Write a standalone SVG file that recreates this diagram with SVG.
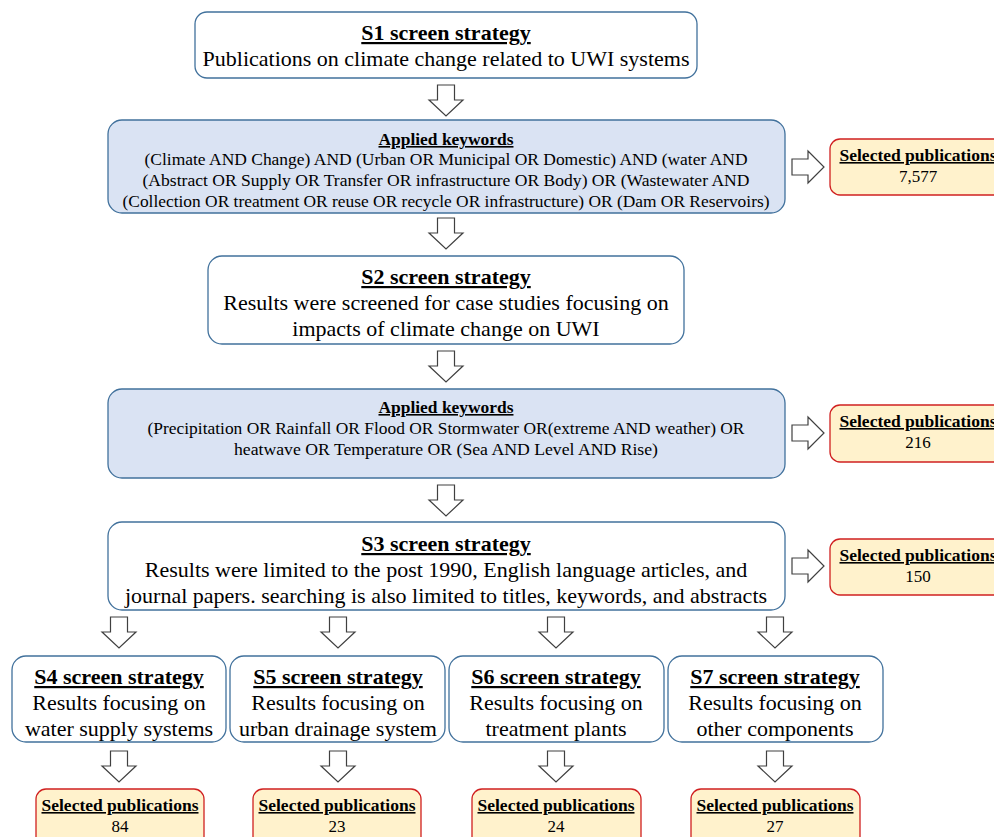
<svg xmlns="http://www.w3.org/2000/svg" width="994" height="837" viewBox="0 0 994 837">
<style>
.box{fill:#fff;stroke:#41719c;stroke-width:1.3}
.kw{fill:#dae3f3;stroke:#41719c;stroke-width:1.3}
.sel{fill:#fff2cc;stroke:#d02020;stroke-width:1.3}
.arr{fill:#fff;stroke:#404040;stroke-width:1.2;stroke-linejoin:miter}
text{font-family:"Liberation Serif","Times New Roman",serif;fill:#000;text-anchor:middle}
.t{font-size:22px;font-weight:bold;text-decoration:underline}
.b{font-size:22px}
.kt{font-size:16px;font-weight:bold;text-decoration:underline}
.k{font-size:17px}
.st{font-size:16px;font-weight:bold;text-decoration:underline}
.sv{font-size:17px}
</style>
<defs>
<path id="down" d="M-8.5,0 H8.5 V15 H17 L0,31 L-17,15 H-8.5 Z"/>
<path id="right" d="M0,-8 H16 V-16 L32,0 L16,16 V8 H0 Z"/>
</defs>

<g id="connectors">
<use href="#down" class="arr" x="446" y="85"/>
<use href="#down" class="arr" x="446" y="218"/>
<use href="#down" class="arr" x="446" y="351"/>
<use href="#down" class="arr" x="446" y="485"/>
<use href="#right" class="arr" x="792" y="167"/>
<use href="#right" class="arr" x="792" y="433"/>
<use href="#right" class="arr" x="792" y="566"/>
<use href="#down" class="arr" x="119" y="617"/>
<use href="#down" class="arr" x="338" y="617"/>
<use href="#down" class="arr" x="556" y="617"/>
<use href="#down" class="arr" x="775" y="617"/>
<use href="#down" class="arr" x="119" y="751"/>
<use href="#down" class="arr" x="338" y="751"/>
<use href="#down" class="arr" x="556" y="751"/>
<use href="#down" class="arr" x="775" y="751"/>
</g>

<g id="s1">
<rect class="box" x="195" y="12" width="502" height="66" rx="12"/>
<text class="t" x="446" y="40">S1 screen strategy</text>
<text class="b" x="446" y="66">Publications on climate change related to UWI systems</text>
</g>

<g id="kw1">
<rect class="kw" x="108" y="120" width="677" height="93" rx="14"/>
<text class="kt" x="446" y="145" textLength="135" lengthAdjust="spacingAndGlyphs">Applied keywords</text>
<text class="k" x="446" y="165" textLength="603" lengthAdjust="spacingAndGlyphs">(Climate AND Change) AND (Urban OR Municipal OR Domestic) AND (water AND</text>
<text class="k" x="446" y="186" textLength="607" lengthAdjust="spacingAndGlyphs">(Abstract OR Supply OR Transfer OR infrastructure OR Body) OR (Wastewater AND</text>
<text class="k" x="446" y="207" textLength="647" lengthAdjust="spacingAndGlyphs">(Collection OR treatment OR reuse OR recycle OR infrastructure) OR (Dam OR Reservoirs)</text>
</g>

<g id="sel1">
<rect class="sel" x="830" y="139" width="180" height="56" rx="10"/>
<text class="st" x="918" y="161" textLength="157" lengthAdjust="spacingAndGlyphs">Selected publications</text>
<text class="sv" x="918" y="182">7,577</text>
</g>

<g id="s2">
<rect class="box" x="208" y="256" width="476" height="88" rx="14"/>
<text class="t" x="446" y="284">S2 screen strategy</text>
<text class="b" x="446" y="310">Results were screened for case studies focusing on</text>
<text class="b" x="446" y="336">impacts of climate change on UWI</text>
</g>

<g id="kw2">
<rect class="kw" x="108" y="389" width="677" height="89" rx="14"/>
<text class="kt" x="446" y="413" textLength="135" lengthAdjust="spacingAndGlyphs">Applied keywords</text>
<text class="k" x="446" y="434" textLength="597" lengthAdjust="spacingAndGlyphs">(Precipitation OR Rainfall OR Flood OR Stormwater OR(extreme AND weather) OR</text>
<text class="k" x="446" y="455" textLength="424" lengthAdjust="spacingAndGlyphs">heatwave OR Temperature OR  (Sea AND Level AND Rise)</text>
</g>

<g id="sel2">
<rect class="sel" x="830" y="405" width="180" height="57" rx="10"/>
<text class="st" x="918" y="427" textLength="157" lengthAdjust="spacingAndGlyphs">Selected publications</text>
<text class="sv" x="918" y="448">216</text>
</g>

<g id="s3">
<rect class="box" x="108" y="522" width="677" height="88" rx="14"/>
<text class="t" x="446" y="551">S3 screen strategy</text>
<text class="b" x="446" y="577">Results were limited to the post 1990, English language articles, and</text>
<text class="b" x="446" y="603">journal papers. searching is also limited to titles, keywords, and abstracts</text>
</g>

<g id="sel3">
<rect class="sel" x="830" y="539" width="180" height="56" rx="10"/>
<text class="st" x="918" y="561" textLength="157" lengthAdjust="spacingAndGlyphs">Selected publications</text>
<text class="sv" x="918" y="582">150</text>
</g>

<g id="s4">
<rect class="box" x="12" y="656" width="214" height="86" rx="14"/>
<text class="t" x="119" y="684">S4 screen strategy</text>
<text class="b" x="119" y="710">Results focusing on</text>
<text class="b" x="119" y="736">water supply systems</text>
</g>
<g id="s5">
<rect class="box" x="230" y="656" width="215" height="86" rx="14"/>
<text class="t" x="338" y="684">S5 screen strategy</text>
<text class="b" x="338" y="710">Results focusing on</text>
<text class="b" x="338" y="736">urban drainage system</text>
</g>
<g id="s6">
<rect class="box" x="449" y="656" width="215" height="86" rx="14"/>
<text class="t" x="556" y="684">S6 screen strategy</text>
<text class="b" x="556" y="710">Results focusing on</text>
<text class="b" x="556" y="736">treatment plants</text>
</g>
<g id="s7">
<rect class="box" x="668" y="656" width="215" height="86" rx="14"/>
<text class="t" x="775" y="684">S7 screen strategy</text>
<text class="b" x="775" y="710">Results focusing on</text>
<text class="b" x="775" y="736">other components</text>
</g>

<g id="sel4">
<rect class="sel" x="36" y="789" width="168" height="60" rx="10"/>
<text class="st" x="120" y="811" textLength="157" lengthAdjust="spacingAndGlyphs">Selected publications</text>
<text class="sv" x="120" y="832">84</text>
</g>
<g id="sel5">
<rect class="sel" x="253" y="789" width="168" height="60" rx="10"/>
<text class="st" x="337" y="811" textLength="157" lengthAdjust="spacingAndGlyphs">Selected publications</text>
<text class="sv" x="337" y="832">23</text>
</g>
<g id="sel6">
<rect class="sel" x="472" y="789" width="169" height="60" rx="10"/>
<text class="st" x="556" y="811" textLength="157" lengthAdjust="spacingAndGlyphs">Selected publications</text>
<text class="sv" x="556" y="832">24</text>
</g>
<g id="sel7">
<rect class="sel" x="691" y="789" width="169" height="60" rx="10"/>
<text class="st" x="775" y="811" textLength="157" lengthAdjust="spacingAndGlyphs">Selected publications</text>
<text class="sv" x="775" y="832">27</text>
</g>
</svg>
